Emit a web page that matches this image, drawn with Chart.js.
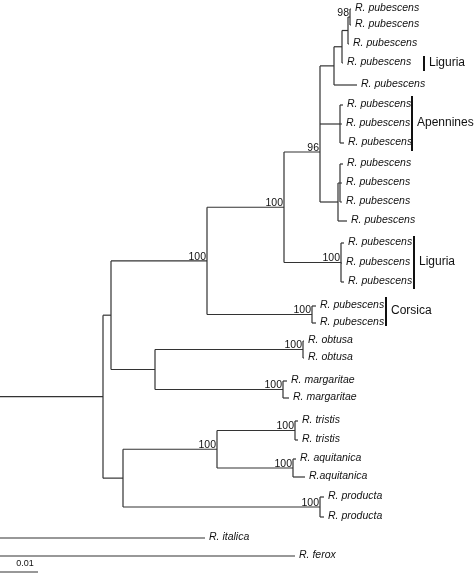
<!DOCTYPE html>
<html>
<head>
<meta charset="utf-8">
<script src="https://cdn.jsdelivr.net/npm/chart.js@4"></script>
<style>
  body { margin: 0; background: #fff; }
  #wrap { width: 474px; height: 576px; }
</style>
</head>
<body>
<div id="wrap"><canvas id="tree" width="474" height="576"></canvas></div>
<script>
// tips: name, branch end (x), row position (y)
const tipNames = [
  'R. pubescens', 'R. pubescens', 'R. pubescens', 'R. pubescens', 'R. pubescens',
  'R. pubescens', 'R. pubescens', 'R. pubescens',
  'R. pubescens', 'R. pubescens', 'R. pubescens', 'R. pubescens',
  'R. pubescens', 'R. pubescens', 'R. pubescens',
  'R. pubescens', 'R. pubescens',
  'R. obtusa', 'R. obtusa', 'R. margaritae', 'R. margaritae',
  'R. tristis', 'R. tristis', 'R. aquitanica', 'R.aquitanica',
  'R. producta', 'R. producta', 'R. italica', 'R. ferox'
];
const tipX = [351, 351, 349, 343, 357, 343, 342, 344, 343, 342, 342, 347, 344, 342, 344,
              316, 316, 304, 304, 287, 289, 298, 298, 296, 305, 324, 324, 205, 295];
const tipY = [9, 25, 44, 63, 85, 105, 124, 143, 164, 183, 202, 221, 243, 263, 282,
              306, 323, 341, 358, 381, 398, 421, 440, 459, 477, 497, 517, 538, 556];

// internal nodes: position, children ('t' tip / 'n' node), bootstrap support
const nodeX = [350, 348, 342, 334, 340, 340, 338, 320, 341, 284, 312, 207, 303, 283, 155, 111,
               295, 293, 217, 320, 123, 103, -5];
const nodeKids = [
  ['t0', 't1'], ['n0', 't2'], ['n1', 't3'], ['n2', 't4'], ['t5', 't6', 't7'],
  ['t8', 't9', 't10'], ['n5', 't11'], ['n3', 'n4', 'n6'], ['t12', 't13', 't14'],
  ['n7', 'n8'], ['t15', 't16'], ['n9', 'n10'], ['t17', 't18'], ['t19', 't20'],
  ['n12', 'n13'], ['n11', 'n14'], ['t21', 't22'], ['t23', 't24'], ['n16', 'n17'],
  ['t25', 't26'], ['n18', 'n19'], ['n15', 'n20'], ['n21', 't27', 't28']
];
const support = ['98', '', '', '', '', '', '', '96', '100', '100', '100', '100', '100', '100',
                 '', '', '100', '100', '100', '100', '', '', ''];
const nodeYFixed = { 7: 152 };

// clade brackets: label, bar top, bar bottom, bar x
const groupNames = ['Liguria', 'Apennines', 'Liguria', 'Corsica'];
const groupTop = [56, 96, 236, 297];
const groupBottom = [71, 151, 289, 326];
const groupX = [424, 412, 414, 386];

const scaleLabel = '0.01';

const nodeY = [];
function posOf(id) {
  const i = +id.slice(1);
  return id[0] === 't' ? { x: tipX[i], y: tipY[i] } : { x: nodeX[i], y: getNodeY(i) };
}
function getNodeY(i) {
  if (nodeY[i] !== undefined) return nodeY[i];
  const ys = nodeKids[i].map(k => posOf(k).y);
  nodeY[i] = nodeYFixed[i] !== undefined ? nodeYFixed[i] : (Math.min(...ys) + Math.max(...ys)) / 2;
  return nodeY[i];
}

const segs = [];
nodeKids.forEach((kids, i) => {
  const ys = kids.map(k => posOf(k).y);
  segs.push([{ x: nodeX[i], y: Math.min(...ys) }, { x: nodeX[i], y: Math.max(...ys) }]);
  kids.forEach(k => {
    const p = posOf(k);
    segs.push([{ x: nodeX[i], y: p.y }, { x: p.x, y: p.y }]);
  });
});
// scale bar
segs.push([{ x: 0, y: 572 }, { x: 38, y: 572 }]);

const datasets = segs.map(s => ({
  data: s, showLine: true, borderColor: '#333', borderWidth: 1.2,
  pointRadius: 0, fill: false
}));

const textPlugin = {
  id: 'treeText',
  afterDatasetsDraw(chart) {
    const c = chart.ctx, sx = chart.scales.x, sy = chart.scales.y;
    c.save();
    c.fillStyle = '#111';
    c.textBaseline = 'middle';
    c.textAlign = 'left';
    c.font = 'italic 10.5px "Liberation Sans", Arial';
    tipNames.forEach((n, i) => {
      c.fillText(n, sx.getPixelForValue(tipX[i]) + 4, sy.getPixelForValue(tipY[i]) - 1);
    });
    c.font = '10.5px "Liberation Sans", Arial';
    c.textAlign = 'right';
    c.textBaseline = 'bottom';
    support.forEach((s, i) => {
      if (!s) return;
      c.fillText(s, sx.getPixelForValue(nodeX[i]) - 1, sy.getPixelForValue(getNodeY(i)) + 1);
    });
    c.textAlign = 'left';
    c.textBaseline = 'middle';
    c.font = '12px "Liberation Sans", Arial';
    c.strokeStyle = '#111';
    c.lineWidth = 2;
    groupNames.forEach((g, i) => {
      const x = sx.getPixelForValue(groupX[i]);
      const y0 = sy.getPixelForValue(groupTop[i]), y1 = sy.getPixelForValue(groupBottom[i]);
      c.beginPath(); c.moveTo(x, y0); c.lineTo(x, y1); c.stroke();
      c.fillText(g, x + 5, (y0 + y1) / 2 - 1);
    });
    c.font = '9px "Liberation Sans", Arial';
    c.textAlign = 'center';
    c.fillText(scaleLabel, sx.getPixelForValue(25), sy.getPixelForValue(564));
    c.restore();
  }
};

new Chart(document.getElementById('tree'), {
  type: 'scatter',
  data: { datasets },
  options: {
    responsive: false,
    animation: false,
    layout: { padding: 0 },
    plugins: { legend: { display: false }, tooltip: { enabled: false } },
    scales: {
      x: { type: 'linear', min: 0, max: 474, display: false },
      y: { type: 'linear', min: 0, max: 576, reverse: true, display: false }
    }
  },
  plugins: [textPlugin]
});
</script>
</body>
</html>
